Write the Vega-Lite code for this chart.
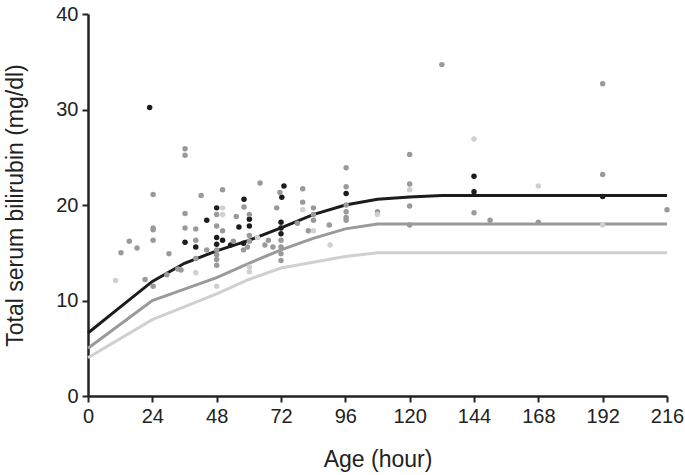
{
  "$schema": "https://vega.github.io/schema/vega-lite/v6.json",
  "width": 579,
  "height": 382,
  "autosize": {"type": "none"},
  "padding": {"left": 88, "top": 14, "right": 18, "bottom": 79},
  "background": "white",
  "config": {
    "view": {"stroke": null},
    "font": "Liberation Sans",
    "axis": {
      "grid": false,
      "domainColor": "#222222",
      "domainWidth": 2.5,
      "tickColor": "#222222",
      "tickWidth": 2,
      "tickSize": 6,
      "labelFontSize": 20,
      "labelColor": "#222222",
      "labelFlush": false,
      "labelOverlap": false,
      "titleFontSize": 23,
      "titleFontWeight": "normal",
      "titleColor": "#222222"
    }
  },
  "datasets": {
    "lines": [
      {"age": 0, "tsb": 6.6, "g": "a"},
      {"age": 12, "tsb": 9.3, "g": "a"},
      {"age": 24, "tsb": 12.0, "g": "a"},
      {"age": 36, "tsb": 13.9, "g": "a"},
      {"age": 48, "tsb": 15.2, "g": "a"},
      {"age": 60, "tsb": 16.3, "g": "a"},
      {"age": 72, "tsb": 17.6, "g": "a"},
      {"age": 84, "tsb": 19.0, "g": "a"},
      {"age": 96, "tsb": 20.0, "g": "a"},
      {"age": 108, "tsb": 20.6, "g": "a"},
      {"age": 120, "tsb": 20.85, "g": "a"},
      {"age": 132, "tsb": 21.0, "g": "a"},
      {"age": 216, "tsb": 21.0, "g": "a"},
      {"age": 0, "tsb": 5.0, "g": "b"},
      {"age": 24, "tsb": 10.0, "g": "b"},
      {"age": 36, "tsb": 11.2, "g": "b"},
      {"age": 48, "tsb": 12.4, "g": "b"},
      {"age": 60, "tsb": 13.9, "g": "b"},
      {"age": 72, "tsb": 15.3, "g": "b"},
      {"age": 84, "tsb": 16.5, "g": "b"},
      {"age": 96, "tsb": 17.5, "g": "b"},
      {"age": 108, "tsb": 18.0, "g": "b"},
      {"age": 216, "tsb": 18.0, "g": "b"},
      {"age": 0, "tsb": 4.0, "g": "c"},
      {"age": 24, "tsb": 8.0, "g": "c"},
      {"age": 48, "tsb": 10.7, "g": "c"},
      {"age": 60, "tsb": 12.2, "g": "c"},
      {"age": 72, "tsb": 13.4, "g": "c"},
      {"age": 96, "tsb": 14.6, "g": "c"},
      {"age": 108, "tsb": 15.0, "g": "c"},
      {"age": 216, "tsb": 15.0, "g": "c"}
    ],
    "points": [
      {"age": 23, "tsb": 30.2, "g": "a"},
      {"age": 36.2, "tsb": 16.1, "g": "a"},
      {"age": 40.2, "tsb": 15.6, "g": "a"},
      {"age": 44.3, "tsb": 18.4, "g": "a"},
      {"age": 48, "tsb": 19.7, "g": "a"},
      {"age": 48, "tsb": 16.6, "g": "a"},
      {"age": 48, "tsb": 15.9, "g": "a"},
      {"age": 50.2, "tsb": 16.3, "g": "a"},
      {"age": 53.2, "tsb": 15.8, "g": "a"},
      {"age": 56.3, "tsb": 17.7, "g": "a"},
      {"age": 58.2, "tsb": 20.6, "g": "a"},
      {"age": 58, "tsb": 16.0, "g": "a"},
      {"age": 60.2, "tsb": 18.5, "g": "a"},
      {"age": 60.2, "tsb": 17.8, "g": "a"},
      {"age": 72.3, "tsb": 20.8, "g": "a"},
      {"age": 73.1, "tsb": 22.0, "g": "a"},
      {"age": 72, "tsb": 18.2, "g": "a"},
      {"age": 72, "tsb": 17.6, "g": "a"},
      {"age": 72, "tsb": 17.0, "g": "a"},
      {"age": 96.3, "tsb": 21.2, "g": "a"},
      {"age": 144, "tsb": 23.0, "g": "a"},
      {"age": 144, "tsb": 21.4, "g": "a"},
      {"age": 192, "tsb": 20.9, "g": "a"},
      {"age": 12.3, "tsb": 15.0, "g": "b"},
      {"age": 15.4, "tsb": 16.2, "g": "b"},
      {"age": 18.3, "tsb": 15.5, "g": "b"},
      {"age": 21.3, "tsb": 12.2, "g": "b"},
      {"age": 24.3, "tsb": 21.1, "g": "b"},
      {"age": 24.3, "tsb": 17.6, "g": "b"},
      {"age": 24.3, "tsb": 17.4, "g": "b"},
      {"age": 24.3, "tsb": 16.3, "g": "b"},
      {"age": 24.3, "tsb": 11.5, "g": "b"},
      {"age": 29.4, "tsb": 12.7, "g": "b"},
      {"age": 30.2, "tsb": 14.9, "g": "b"},
      {"age": 33.5, "tsb": 13.3, "g": "b"},
      {"age": 34.7, "tsb": 13.2, "g": "b"},
      {"age": 36.2, "tsb": 25.9, "g": "b"},
      {"age": 36.2, "tsb": 25.2, "g": "b"},
      {"age": 36.2, "tsb": 19.1, "g": "b"},
      {"age": 36.2, "tsb": 17.6, "g": "b"},
      {"age": 40.2, "tsb": 17.5, "g": "b"},
      {"age": 40.2, "tsb": 16.3, "g": "b"},
      {"age": 40.2, "tsb": 14.4, "g": "b"},
      {"age": 42.2, "tsb": 21.0, "g": "b"},
      {"age": 44.3, "tsb": 15.3, "g": "b"},
      {"age": 48, "tsb": 19.0, "g": "b"},
      {"age": 48, "tsb": 17.8, "g": "b"},
      {"age": 48, "tsb": 15.3, "g": "b"},
      {"age": 48, "tsb": 14.8, "g": "b"},
      {"age": 48, "tsb": 14.3, "g": "b"},
      {"age": 48, "tsb": 13.7, "g": "b"},
      {"age": 50.2, "tsb": 21.6, "g": "b"},
      {"age": 50.2, "tsb": 17.3, "g": "b"},
      {"age": 54.2, "tsb": 16.2, "g": "b"},
      {"age": 55.3, "tsb": 18.8, "g": "b"},
      {"age": 58.2, "tsb": 19.8, "g": "b"},
      {"age": 58, "tsb": 15.3, "g": "b"},
      {"age": 59.5, "tsb": 15.6, "g": "b"},
      {"age": 60.2, "tsb": 19.0, "g": "b"},
      {"age": 60.2, "tsb": 16.8, "g": "b"},
      {"age": 60.2, "tsb": 16.2, "g": "b"},
      {"age": 64.2, "tsb": 22.3, "g": "b"},
      {"age": 66, "tsb": 15.8, "g": "b"},
      {"age": 67.3, "tsb": 16.3, "g": "b"},
      {"age": 69, "tsb": 15.6, "g": "b"},
      {"age": 70.4, "tsb": 19.7, "g": "b"},
      {"age": 71.6, "tsb": 21.3, "g": "b"},
      {"age": 72, "tsb": 16.3, "g": "b"},
      {"age": 72, "tsb": 15.6, "g": "b"},
      {"age": 72, "tsb": 14.9, "g": "b"},
      {"age": 72, "tsb": 14.2, "g": "b"},
      {"age": 78.1, "tsb": 18.1, "g": "b"},
      {"age": 80.1, "tsb": 21.7, "g": "b"},
      {"age": 80.1, "tsb": 20.3, "g": "b"},
      {"age": 82.2, "tsb": 17.3, "g": "b"},
      {"age": 84.1, "tsb": 19.7, "g": "b"},
      {"age": 84.1, "tsb": 19.0, "g": "b"},
      {"age": 84.1, "tsb": 18.4, "g": "b"},
      {"age": 90, "tsb": 17.9, "g": "b"},
      {"age": 96.3, "tsb": 23.9, "g": "b"},
      {"age": 96.3, "tsb": 21.9, "g": "b"},
      {"age": 96.3, "tsb": 20.0, "g": "b"},
      {"age": 96.3, "tsb": 19.3, "g": "b"},
      {"age": 96.3, "tsb": 18.7, "g": "b"},
      {"age": 96.3, "tsb": 18.4, "g": "b"},
      {"age": 108, "tsb": 19.3, "g": "b"},
      {"age": 120, "tsb": 25.3, "g": "b"},
      {"age": 120, "tsb": 22.2, "g": "b"},
      {"age": 120, "tsb": 19.9, "g": "b"},
      {"age": 120, "tsb": 17.9, "g": "b"},
      {"age": 132, "tsb": 34.7, "g": "b"},
      {"age": 144, "tsb": 19.2, "g": "b"},
      {"age": 150, "tsb": 18.4, "g": "b"},
      {"age": 168, "tsb": 18.2, "g": "b"},
      {"age": 192, "tsb": 32.7, "g": "b"},
      {"age": 192, "tsb": 23.2, "g": "b"},
      {"age": 216, "tsb": 19.5, "g": "b"},
      {"age": 10.3, "tsb": 12.1, "g": "c"},
      {"age": 40.2, "tsb": 12.9, "g": "c"},
      {"age": 48, "tsb": 11.5, "g": "c"},
      {"age": 50.2, "tsb": 19.7, "g": "c"},
      {"age": 50.2, "tsb": 19.0, "g": "c"},
      {"age": 60.2, "tsb": 13.5, "g": "c"},
      {"age": 60.2, "tsb": 13.0, "g": "c"},
      {"age": 63.2, "tsb": 16.6, "g": "c"},
      {"age": 80.1, "tsb": 19.5, "g": "c"},
      {"age": 84.1, "tsb": 17.3, "g": "c"},
      {"age": 90.3, "tsb": 15.8, "g": "c"},
      {"age": 108, "tsb": 19.0, "g": "c"},
      {"age": 120, "tsb": 21.6, "g": "c"},
      {"age": 144, "tsb": 26.9, "g": "c"},
      {"age": 168, "tsb": 22.0, "g": "c"},
      {"age": 192, "tsb": 17.9, "g": "c"}
    ]
  },
  "encoding": {
    "x": {
      "field": "age",
      "type": "quantitative",
      "scale": {"domain": [0, 216], "nice": false, "zero": true},
      "axis": {"values": [0, 24, 48, 72, 96, 120, 144, 168, 192, 216], "title": "Age (hour)", "labelPadding": 4, "titlePadding": 22}
    },
    "y": {
      "field": "tsb",
      "type": "quantitative",
      "scale": {"domain": [0, 40], "nice": false},
      "axis": {"values": [0, 10, 20, 30, 40], "title": "Total serum bilirubin (mg/dl)", "labelPadding": 4, "titlePadding": 28}
    },
    "color": {
      "field": "g",
      "type": "nominal",
      "scale": {"domain": ["a", "b", "c"], "range": ["#1c1c1c", "#9a9a9a", "#d0d0d0"]},
      "legend": null
    }
  },
  "layer": [
    {
      "data": {"name": "lines"},
      "mark": {"type": "line", "strokeWidth": 3},
      "encoding": {"detail": {"field": "g"}}
    },
    {
      "data": {"name": "points"},
      "mark": {"type": "circle", "size": 30, "opacity": 1}
    }
  ]
}
